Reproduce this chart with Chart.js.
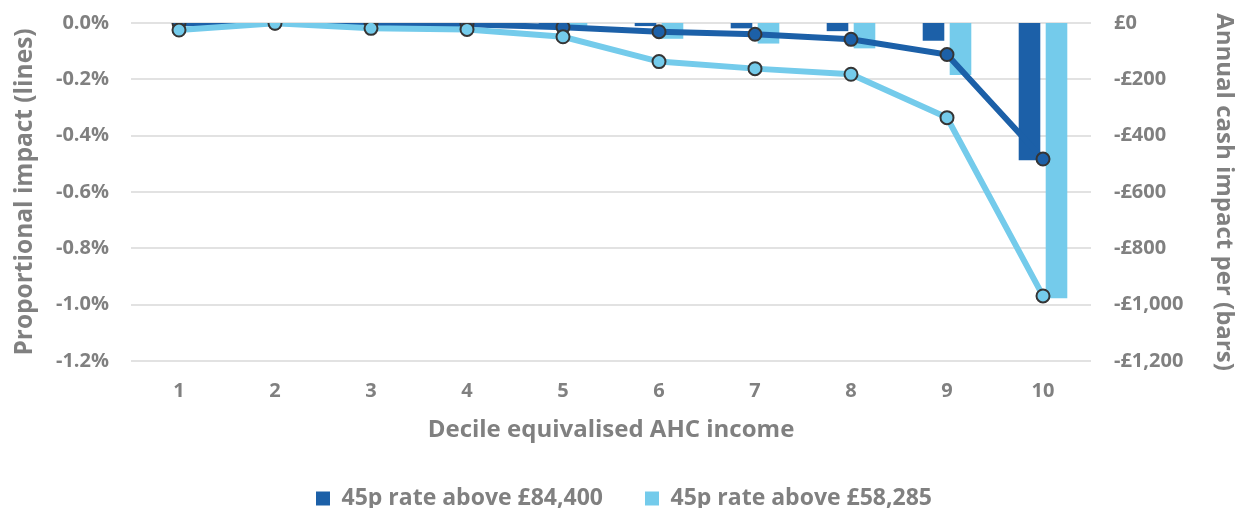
<!DOCTYPE html>
<html>
<head>
<meta charset="utf-8">
<script src="https://cdn.jsdelivr.net/npm/chart.js@4.4.1/dist/chart.umd.min.js"></script>
<style>
  html, body { margin: 0; padding: 0; background: #ffffff; }
  #wrap { width: 1238px; height: 508px; position: relative; }
</style>
</head>
<body>
<div id="wrap"><canvas id="chart" width="1238" height="508"></canvas></div>
<script>
// Income deciles (equivalised, after housing costs)
const deciles = ['1', '2', '3', '4', '5', '6', '7', '8', '9', '10'];

// Annual cash impact per household, £ (bars, right axis)
const cashHigh = [0, 0, -1, -2, -4, -11, -19, -29, -63, -487];
const cashLow = [-2, 0, -3, -5, -12, -56, -73, -90, -185, -977];

// Proportional impact on income, % (lines, left axis)
const propHigh = [-0.001, 0.0, -0.002, -0.004, -0.015, -0.031, -0.040, -0.058, -0.112, -0.483];
const propLow = [-0.025, -0.001, -0.019, -0.023, -0.049, -0.137, -0.162, -0.182, -0.336, -0.969];

// Series names
const nameHigh = '45p rate above £84,400';
const nameLow = '45p rate above £58,285';

// Axis tick values
const pctTicks = [0, -0.2, -0.4, -0.6, -0.8, -1.0, -1.2];
const cashTicks = [0, -200, -400, -600, -800, -1000, -1200];

const DARK = '#1c60a8';
const LIGHT = '#74cbeb';
const GREY = '#808080';
const FONT = 'Open Sans';

function fmtPct(v) {
  const s = Math.abs(v).toFixed(1) + '%';
  return (v < -1e-9 ? '-' : '') + s;
}
function fmtCash(v) {
  const s = '£' + Math.abs(v).toLocaleString('en-GB');
  return (v < 0 ? '-' : '') + s;
}

// vertical axes: no extra top/bottom overhang, fixed widths
function fitVertical(width) {
  return (s) => { s.width = width; s.paddingTop = 0; s.paddingBottom = 0; };
}

new Chart(document.getElementById('chart'), {
  data: {
    labels: deciles,
    datasets: [
      {
        type: 'line', label: nameLow, data: propLow, yAxisID: 'yPct', order: 1,
        borderColor: LIGHT, borderWidth: 6, backgroundColor: LIGHT,
        pointRadius: 6.5, pointBorderWidth: 2, pointBorderColor: '#353535',
        pointBackgroundColor: LIGHT, tension: 0
      },
      {
        type: 'line', label: nameHigh, data: propHigh, yAxisID: 'yPct', order: 2,
        borderColor: DARK, borderWidth: 6, backgroundColor: DARK,
        pointRadius: 6.5, pointBorderWidth: 2, pointBorderColor: '#353535',
        pointBackgroundColor: DARK, tension: 0
      },
      {
        type: 'bar', label: nameHigh, data: cashHigh, yAxisID: 'yCash', order: 3,
        backgroundColor: DARK, borderWidth: 0,
        categoryPercentage: 0.5625, barPercentage: 0.8
      },
      {
        type: 'bar', label: nameLow, data: cashLow, yAxisID: 'yCash', order: 3,
        backgroundColor: LIGHT, borderWidth: 0,
        categoryPercentage: 0.5625, barPercentage: 0.8
      }
    ]
  },
  options: {
    responsive: false,
    animation: false,
    layout: { padding: { top: 23, left: 10, right: 0, bottom: -12 } },
    plugins: {
      tooltip: { enabled: false },
      legend: {
        position: 'bottom',
        labels: {
          filter: (item, data) => data.datasets[item.datasetIndex].type === 'bar',
          boxWidth: 14, boxHeight: 14, padding: 42,
          color: GREY, font: { family: FONT, size: 23, weight: 'bold' }
        }
      }
    },
    scales: {
      x: {
        grid: { display: false, drawTicks: false },
        border: { display: false },
        ticks: { color: GREY, padding: 18, font: { family: FONT, size: 20, weight: 'bold' } },
        title: {
          display: true, text: 'Decile equivalised AHC income', color: GREY,
          padding: { top: 6, bottom: 0 },
          font: { family: FONT, size: 24, weight: 'bold' }
        },
        afterFit: (s) => { s.height = 84; }
      },
      yPct: {
        position: 'left', min: -1.2, max: 0,
        afterBuildTicks: (s) => { s.ticks = pctTicks.map(v => ({ value: v })); },
        grid: { color: '#e2e2e2', lineWidth: 2, drawTicks: false },
        border: { display: false },
        ticks: { color: GREY, padding: 22, callback: (v) => fmtPct(v), font: { family: FONT, size: 20, weight: 'bold' } },
        title: {
          display: true, text: 'Proportional impact (lines)', color: GREY,
          padding: { top: 0, bottom: 0 },
          font: { family: FONT, size: 24.5, weight: 'bold' }
        },
        afterFit: fitVertical(121)
      },
      yCash: {
        position: 'right', min: -1200, max: 0,
        afterBuildTicks: (s) => { s.ticks = cashTicks.map(v => ({ value: v })); },
        grid: { display: false, drawTicks: false },
        border: { display: false },
        ticks: { color: GREY, padding: 23, callback: (v) => fmtCash(v), font: { family: FONT, size: 20, weight: 'bold' } },
        title: {
          display: true, text: 'Annual cash impact per (bars)', color: GREY,
          align: 'center',
          padding: { top: 0, bottom: 0 },
          font: { family: FONT, size: 24, weight: 'bold' }
        },
        afterFit: fitVertical(147)
      }
    }
  }
});
</script>
</body>
</html>
